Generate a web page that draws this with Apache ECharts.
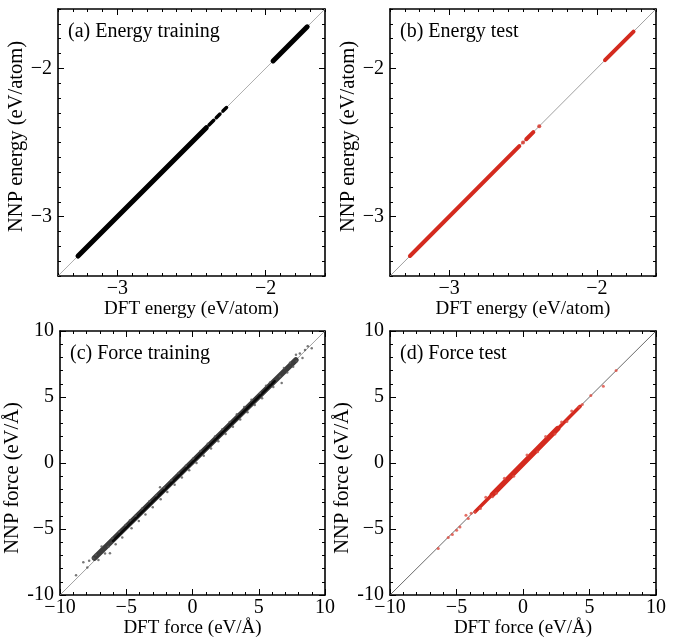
<!DOCTYPE html>
<html><head><meta charset="utf-8">
<script src="https://cdn.jsdelivr.net/npm/echarts@6/dist/echarts.min.js"></script>
<style>html,body{margin:0;padding:0;background:#fff}#c{width:683px;height:639px}</style>
</head><body><div id="c"></div><script>
// ---------- data ----------
const energyRange = [-3.4, -1.6];
const energyMajorTicks = [-3, -2];
const energyMinorStep = 0.1;
const forceRange = [-10, 10];
const forceMajorStep = 5;
const forceMinorStep = 1;

const panelLabels = ['(a) Energy training', '(b) Energy test', '(c) Force training', '(d) Force test'];
const xTitles = ['DFT energy (eV/atom)', 'DFT energy (eV/atom)', 'DFT force (eV/Å)', 'DFT force (eV/Å)'];
const yTitles = ['NNP energy (eV/atom)', 'NNP energy (eV/atom)', 'NNP force (eV/Å)', 'NNP force (eV/Å)'];

// energy training: dense runs of points along the diagonal [DFT, NNP]
const energyTrainRuns = [
  [[-3.265, -3.265], [-2.400, -2.400]],
  [[-1.950, -1.950], [-1.720, -1.720]]
];
const energyTrainDashes = [
  [[-2.382, -2.382], [-2.350, -2.350]],
  [[-2.333, -2.333], [-2.308, -2.308]],
  [[-2.288, -2.288], [-2.264, -2.264]]
];
// energy test
const energyTestRuns = [
  [[-3.265, -3.265], [-2.525, -2.525]],
  [[-2.478, -2.478], [-2.430, -2.430]],
  [[-1.945, -1.945], [-1.752, -1.752]]
];
const energyTestPoints = [[-2.500, -2.500], [-2.390, -2.390]];

// force training: dense band + individual points [DFT, NNP]
const forceTrainBandOuter = [[-7.4, -7.2], [7.8, 7.8]];
const forceTrainBandCore = [[-6.0, -5.9], [6.2, 6.2]];
const forceTrainPoints = [
  [-8.79,-8.50],[-8.24,-7.52],[-7.94,-7.92],[-7.80,-7.40],[-7.48,-7.22],[-7.10,-7.35],[-7.30,-6.95],
  [-6.86,-6.32],[-6.60,-6.85],[-6.35,-6.34],[-6.23,-6.84],[-6.05,-5.70],[-5.80,-6.15],[-5.55,-5.20],
  [-5.30,-5.65],[-5.05,-4.70],[-4.72,-4.34],[-4.60,-4.95],[-4.30,-4.00],[-4.05,-4.40],[-3.80,-3.45],
  [-3.55,-3.90],[-3.25,-2.90],[-3.00,-3.35],[-2.75,-2.45],[-2.45,-1.83],[-2.40,-2.75],[-2.15,-1.85],
  [-1.90,-2.20],[-1.60,-1.30],[-1.35,-1.65],[-1.05,-0.75],[-0.80,-1.10],[-0.50,-0.20],[-0.25,-0.55],
  [0.05,0.35],[0.30,0.00],[0.60,0.90],[0.85,0.55],[1.15,1.45],[1.40,1.10],[1.70,2.00],[1.95,1.65],
  [2.25,2.55],[2.50,2.20],[2.80,3.10],[3.05,2.75],[3.35,3.70],[3.60,3.30],[3.90,4.25],[4.15,3.85],
  [4.45,4.80],[4.70,4.40],[5.10,5.30],[5.25,4.90],[5.55,5.85],[5.85,6.10],[6.10,5.75],[6.60,6.56],
  [6.73,6.07],[6.90,7.20],[7.15,6.85],[7.36,7.60],[7.60,7.30],[7.81,8.20],[7.86,7.70],[8.10,8.30],
  [8.30,7.95],[8.49,8.57],[8.70,8.85],[9.00,8.70]
];

// force test
const forceTestBandOuter = [[-3.6, -3.7], [4.3, 4.3]];
const forceTestBandCore = [[-2.3, -2.4], [2.6, 2.6]];
const forceTestPoints = [
  [7.00,7.00],[6.04,5.81],[5.10,5.11],[4.46,4.44],[4.20,4.25],[3.66,3.93],[3.30,3.15],[2.90,3.10],
  [2.40,2.20],[1.70,2.00],[1.10,0.85],[0.30,0.60],[-0.70,-1.00],[-1.40,-1.15],[-2.00,-2.30],
  [-2.30,-2.55],[-2.80,-2.60],[-3.20,-3.45],[-3.61,-3.71],[-3.90,-3.80],[-4.11,-4.21],[-4.29,-3.96],
  [-4.74,-4.84],[-4.99,-5.09],[-5.31,-5.41],[-5.62,-5.64],[-6.37,-6.47]
];

// ---------- layout / style ----------
const FONT = '"Liberation Serif", "Times New Roman", serif';
const RED = '#d42a1e';
const grids = [
  {left: 58, top: 9, width: 267, height: 267},
  {left: 390, top: 9, width: 266, height: 267},
  {left: 60, top: 331, width: 265, height: 266},
  {left: 390, top: 331, width: 266, height: 266}
];

function fmt(v, isYMin) {
  if (v < 0) return (isYMin ? '-' : '\u2212') + Math.abs(v);
  return String(v);
}

const xAxes = [], yAxes = [];
const mainX = [], mainY = [];

grids.forEach((g, gi) => {
  const energy = gi < 2;
  const range = energy ? energyRange : forceRange;
  const base = {
    gridIndex: gi, type: 'value', min: range[0], max: range[1],
    splitLine: {show: false}, animation: false
  };
  const labelBase = {fontFamily: FONT, fontSize: 20, color: '#000', hideOverlap: false, showMinLabel: true, showMaxLabel: true};
  ['x', 'y'].forEach(dim => {
    const arr = dim === 'x' ? xAxes : yAxes;
    const positions = dim === 'x' ? ['bottom', 'top'] : ['left', 'right'];
    positions.forEach((pos, pi) => {
      const primary = pi === 0;
      const major = Object.assign({}, base, {
        position: pos,
        axisLine: {show: true, onZero: false, lineStyle: {color: '#000', width: 1.6}},
        axisTick: Object.assign({show: true, inside: true, length: 6, lineStyle: {color: '#000', width: 1}}, energy ? {customValues: energyMajorTicks} : {}),
        axisLabel: primary ? Object.assign({}, labelBase, {
          margin: dim === 'x' ? 3 : 6,
          formatter: v => fmt(v, dim === 'y' && !energy && v === -10)
        }, energy ? {customValues: energyMajorTicks} : {}) : {show: false},
        minorTick: {show: false}
      });
      if (!energy) major.interval = forceMajorStep;
      if (primary) {
        major.name = dim === 'x' ? xTitles[gi] : yTitles[gi];
        major.nameLocation = 'middle';
        if (dim === 'x') {
          major.nameGap = 24;
          major.nameTextStyle = {fontFamily: FONT, fontSize: 19, color: '#000'};
        } else {
          major.nameGap = 25;
          major.nameTextStyle = {fontFamily: FONT, fontSize: 20.5, color: '#000',
            padding: energy ? [0, 0, 0, 12] : [0, 30, 0, 0]};
        }
      }
      if (primary) (dim === 'x' ? mainX : mainY)[gi] = arr.length;
      arr.push(major);
      arr.push(Object.assign({}, base, {
        position: pos,
        interval: energy ? energyMinorStep : forceMinorStep,
        axisLine: {show: false, onZero: false},
        axisTick: {show: true, inside: true, length: 3, lineStyle: {color: '#000', width: 1}},
        axisLabel: {show: false}
      }));
    });
  });
});

const series = [];
function band(gi, data, width, color, z) {
  series.push({
    type: 'line', xAxisIndex: mainX[gi], yAxisIndex: mainY[gi], data: data,
    showSymbol: false, symbol: 'none', silent: true, animation: false, z: z || 3,
    lineStyle: {width: width, color: color, cap: 'round'}
  });
}
function pts(gi, data, size, color, z) {
  series.push({
    type: 'scatter', xAxisIndex: mainX[gi], yAxisIndex: mainY[gi], data: data,
    symbol: 'circle', symbolSize: size, silent: true, animation: false, z: z || 4,
    itemStyle: {color: color}
  });
}
const diagColors = ['#999', '#888', '#888', '#444'];
grids.forEach((g, gi) => {
  const r = gi < 2 ? energyRange : forceRange;
  band(gi, [[r[0], r[0]], [r[1], r[1]]], 0.8, diagColors[gi], 1);
});
energyTrainRuns.forEach(d => band(0, d, 5, '#000'));
energyTrainDashes.forEach(d => band(0, d, 3.5, '#000'));
energyTestRuns.forEach(d => band(1, d, 4, RED));
pts(1, energyTestPoints, 4, RED);

band(2, forceTrainBandOuter, 5.5, '#3c3c3c', 2);
band(2, forceTrainBandCore, 2.5, '#0a0a0a', 3);
pts(2, forceTrainPoints, 2.5, '#555');

band(3, forceTestBandOuter, 3.5, RED, 2);
band(3, forceTestBandCore, 5.5, RED, 3);
pts(3, forceTestPoints, 3, '#dd4a3e');

const graphic = panelLabels.map((t, gi) => ({
  type: 'text', left: grids[gi].left + 10, top: grids[gi].top + 13,
  style: {text: t, font: '20px ' + FONT, fill: '#000'}
}));

const chart = echarts.init(document.getElementById('c'), null, {renderer: 'canvas'});
chart.setOption({
  backgroundColor: '#fff',
  animation: false,
  grid: grids.map(g => Object.assign({containLabel: false}, g)),
  xAxis: xAxes,
  yAxis: yAxes,
  series: series,
  graphic: graphic
});
</script></body></html>
